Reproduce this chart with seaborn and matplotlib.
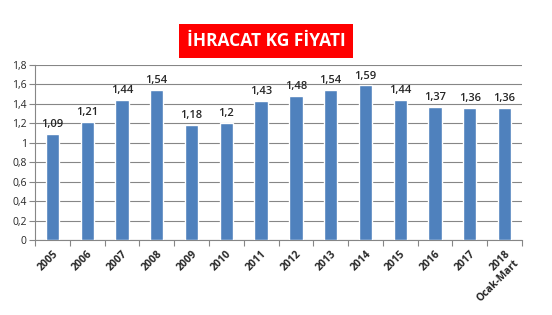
import matplotlib
matplotlib.use("Agg")
import matplotlib.pyplot as plt
import seaborn as sns
import numpy as np
import pandas as pd

years = ["2005", "2006", "2007", "2008", "2009", "2010", "2011", "2012",
         "2013", "2014", "2015", "2016", "2017", "2018\nOcak-Mart"]
values = [1.09, 1.21, 1.44, 1.54, 1.18, 1.20, 1.43, 1.48, 1.54, 1.59, 1.44, 1.37, 1.36, 1.36]
value_labels = ["1,09", "1,21", "1,44", "1,54", "1,18", "1,2", "1,43", "1,48",
                "1,54", "1,59", "1,44", "1,37", "1,36", "1,36"]
yticks = [0, 0.2, 0.4, 0.6, 0.8, 1.0, 1.2, 1.4, 1.6, 1.8]
ytick_labels = ["0", "0,2", "0,4", "0,6", "0,8", "1", "1,2", "1,4", "1,6", "1,8"]
title = "İHRACAT KG FİYATI"

sns.set_theme(style="white")
plt.rcParams['font.family'] = ['Open Sans', 'DejaVu Sans']

df = pd.DataFrame({"year": years, "value": values})

fig = plt.figure(figsize=(5.52, 3.15), dpi=100)
ax = fig.add_axes([35/552, 1-240/315, (522-35)/552, (240-65)/315])

sns.barplot(data=df, x="year", y="value", color="#4F81BD", saturation=1,
            width=0.38, ax=ax, zorder=3)

ax.set_ylim(0, 1.8)
ax.set_xlim(-0.5, len(years)-0.5)
ax.set_yticks(yticks)
ax.set_yticklabels(ytick_labels, fontsize=7.5)
ax.yaxis.grid(True, color="#868686", linewidth=0.8, zorder=0)
ax.set_axisbelow(True)

for s in ["top", "right"]:
    ax.spines[s].set_visible(False)
for s in ["left", "bottom"]:
    ax.spines[s].set_color("#868686")
    ax.spines[s].set_linewidth(0.8)

ax.tick_params(axis="y", length=4, color="#868686", width=0.8, pad=2, left=True)
ax.set_xticks(range(len(years)))
ax.set_xticklabels(years, rotation=45, fontsize=7.5, fontweight="bold",
                   ha="right", rotation_mode="anchor", multialignment="right")
ax.tick_params(axis="x", which="major", length=0, pad=6)
ax.set_xticks(np.arange(-0.5, len(years), 1), minor=True)
ax.tick_params(axis="x", which="minor", length=4, color="#868686", width=0.8, bottom=True)
ax.set_xlabel("")
ax.set_ylabel("")

for i, (v, lab) in enumerate(zip(values, value_labels)):
    ax.text(i, v + 0.04, lab, ha="center", va="bottom", fontsize=8, fontweight="semibold")

fig.text((185+347)/2/552, 1-41/315, title, ha="center", va="center", color="white",
         fontsize=12.5, fontweight="bold",
         bbox=dict(boxstyle="square,pad=0.45", facecolor="#FF0000", edgecolor="none"))

fig.savefig("out.png", dpi=100)
